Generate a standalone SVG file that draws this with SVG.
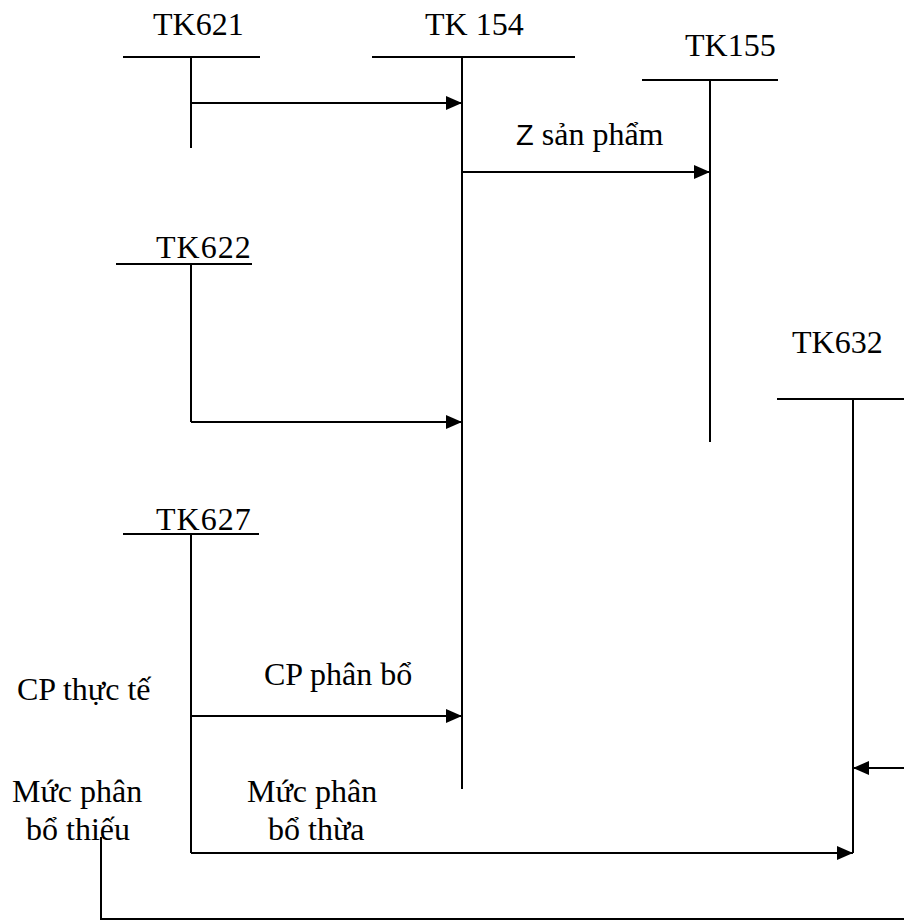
<svg xmlns="http://www.w3.org/2000/svg" width="904" height="920" viewBox="0 0 904 920">
<style>
.t { font-family: 'Liberation Serif', 'Times New Roman', Times, serif; font-size: 32px; fill: #000; }
.sans { font-family: 'Liberation Sans', Arial, sans-serif; font-size: 29px; }
line, polyline { stroke: #000; stroke-width: 2; fill: none; }
</style>
<defs>
<marker id="arr" markerUnits="userSpaceOnUse" markerWidth="16" markerHeight="16" viewBox="0 0 16 16" refX="16" refY="8" orient="auto">
<path d="M0,1 L16,8 L0,15 Z" fill="#000"/>
</marker>
</defs>
<rect width="904" height="920" fill="#fff"/>
<g id="tk621">
<line x1="123" y1="57" x2="260" y2="57"/>
<line x1="191" y1="57" x2="191" y2="148"/>
<text class="t" font-family="Liberation Serif, serif" x="153" y="35">TK621</text>
</g>
<g id="tk154">
<line x1="372" y1="57" x2="575" y2="57"/>
<line x1="462" y1="57" x2="462" y2="789"/>
<text class="t" font-family="Liberation Serif, serif" x="425" y="35">TK 154</text>
</g>
<g id="tk155">
<line x1="642" y1="80" x2="778" y2="80"/>
<line x1="710" y1="80" x2="710" y2="442"/>
<text class="t" font-family="Liberation Serif, serif" x="685" y="56">TK155</text>
</g>
<g id="tk622">
<line x1="116" y1="264" x2="252" y2="264"/>
<line x1="191" y1="264" x2="191" y2="422"/>
<text class="t" font-family="Liberation Serif, serif" x="156" y="258" letter-spacing="1">TK622</text>
</g>
<g id="tk632">
<line x1="777" y1="399" x2="904" y2="399"/>
<line x1="853" y1="399" x2="853" y2="853"/>
<text class="t" font-family="Liberation Serif, serif" x="792" y="353">TK632</text>
</g>
<g id="tk627">
<line x1="123" y1="534" x2="259" y2="534"/>
<line x1="191" y1="534" x2="191" y2="853"/>
<text class="t" font-family="Liberation Serif, serif" x="156" y="530" letter-spacing="1">TK627</text>
</g>
<g id="connectors">
<line x1="191" y1="103" x2="462" y2="103" marker-end="url(#arr)"/>
<line x1="462" y1="172" x2="710" y2="172" marker-end="url(#arr)"/>
<line x1="191" y1="422" x2="462" y2="422" marker-end="url(#arr)"/>
<line x1="191" y1="716" x2="462" y2="716" marker-end="url(#arr)"/>
<line x1="191" y1="853" x2="853" y2="853" marker-end="url(#arr)"/>
<line x1="904" y1="768" x2="853" y2="768" marker-end="url(#arr)"/>
<polyline points="101,837 101,919 904,919" stroke="#555"/>
</g>
<g id="labels">
<text class="t" font-family="Liberation Serif, serif" x="516" y="145"><tspan class="sans" font-family="Liberation Sans, sans-serif">Z</tspan> sản phẩm</text>
<text class="t" font-family="Liberation Serif, serif" x="264" y="685">CP phân bổ</text>
<text class="t" font-family="Liberation Serif, serif" x="17" y="700">CP thực tế</text>
<text class="t" font-family="Liberation Serif, serif" x="12" y="802">Mức phân</text>
<text class="t" font-family="Liberation Serif, serif" x="26" y="840">bổ thiếu</text>
<text class="t" font-family="Liberation Serif, serif" x="247" y="802">Mức phân</text>
<text class="t" font-family="Liberation Serif, serif" x="268" y="840">bổ thừa</text>
</g>
</svg>
